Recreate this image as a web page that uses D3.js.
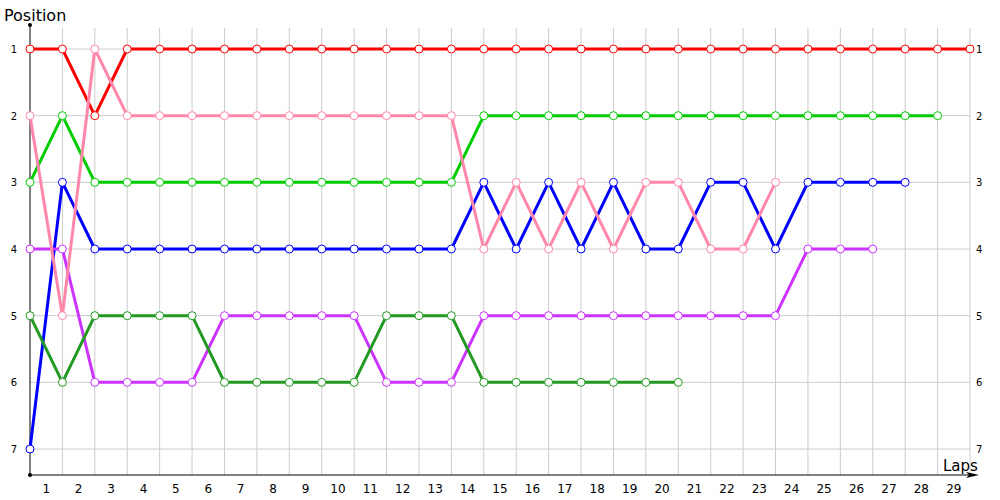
<!DOCTYPE html>
<html>
<head>
<meta charset="utf-8">
<script src="https://cdn.jsdelivr.net/npm/d3@7"></script>
<style>
  body { margin: 0; background: #fff; }
  text { font-family: "DejaVu Sans", Verdana, sans-serif; }
</style>
</head>
<body>
<svg id="chart" width="1000" height="500"></svg>
<script>
// lap positions, index = lap number (0 = start)
const laps = d3.range(0, 30)
const lapLabels = d3.range(1, 30)
const positions = [1, 2, 3, 4, 5, 6, 7]

const red = [1,1,2,1,1,1,1,1,1,1,1,1,1,1,1,1,1,1,1,1,1,1,1,1,1,1,1,1,1,1]
const pink = [2,5,1,2,2,2,2,2,2,2,2,2,2,2,4,3,4,3,4,3,3,4,4,3]
const blue = [7,3,4,4,4,4,4,4,4,4,4,4,4,4,3,4,3,4,3,4,4,3,3,4,3,3,3,3]
const purple = [4,4,6,6,6,6,5,5,5,5,5,6,6,6,5,5,5,5,5,5,5,5,5,5,4,4,4]
const darkGreen = [5,6,5,5,5,5,6,6,6,6,6,5,5,5,6,6,6,6,6,6,6]
const green = [3,2,3,3,3,3,3,3,3,3,3,3,3,3,2,2,2,2,2,2,2,2,2,2,2,2,2,2,2]

const series = [
  { values: red, color: '#ff0000' },
  { values: blue, color: '#0000ff' },
  { values: purple, color: '#cc33ff' },
  { values: darkGreen, color: '#229922' },
  { values: green, color: '#00cc00' },
  { values: pink, color: '#ff88aa' }
]

const svg = d3.select('#chart')

const x = d3.scaleLinear().domain([0, 29]).range([30, 970])
const y = d3.scaleLinear().domain([1, 7]).range([49, 449])

const gridTop = 28, axisY = 475

// grid
svg.append('g')
  .selectAll('line')
  .data(laps.slice(1))
  .join('line')
    .attr('x1', d => x(d)).attr('x2', d => x(d))
    .attr('y1', gridTop).attr('y2', axisY)
    .attr('stroke', '#cccccc')

svg.append('g')
  .selectAll('line')
  .data(positions)
  .join('line')
    .attr('x1', x(0)).attr('x2', x(29))
    .attr('y1', d => y(d)).attr('y2', d => y(d))
    .attr('stroke', '#cccccc')

// axes
svg.append('line')
  .attr('x1', x(0)).attr('x2', x(0))
  .attr('y1', 25).attr('y2', axisY)
  .attr('stroke', '#000')
svg.append('circle').attr('cx', x(0)).attr('cy', 25).attr('r', 2).attr('fill', '#000')
svg.append('circle').attr('cx', x(0)).attr('cy', axisY).attr('r', 2).attr('fill', '#000')

svg.append('line')
  .attr('x1', x(0)).attr('x2', 972)
  .attr('y1', axisY).attr('y2', axisY)
  .attr('stroke', '#000')
svg.append('path')
  .attr('d', `M966,${axisY - 3}L979,${axisY}L966,${axisY + 3}L969,${axisY}Z`)
  .attr('fill', '#000')

// tick labels
svg.append('g')
  .selectAll('text')
  .data(positions)
  .join('text')
    .attr('x', 14).attr('y', d => y(d) + 4)
    .attr('text-anchor', 'middle')
    .attr('font-size', 10)
    .text(d => d)

svg.append('g')
  .selectAll('text')
  .data(positions)
  .join('text')
    .attr('x', 976).attr('y', d => y(d) + 4)
    .attr('text-anchor', 'start')
    .attr('font-size', 10)
    .text(d => d)

svg.append('g')
  .selectAll('text')
  .data(lapLabels)
  .join('text')
    .attr('x', d => x(d - 0.5)).attr('y', 493)
    .attr('text-anchor', 'middle')
    .attr('font-size', 12)
    .text(d => d)

svg.append('text').attr('x', 4).attr('y', 21).attr('font-size', 16).text('Position')
svg.append('text').attr('x', 943).attr('y', 471).attr('font-size', 15).text('Laps')

// series
const line = d3.line().x((d, i) => x(i)).y(d => y(d))

series.forEach(s => {
  svg.append('path')
    .datum(s.values)
    .attr('d', line)
    .attr('fill', 'none')
    .attr('stroke', s.color)
    .attr('stroke-width', 3)
    .attr('stroke-linejoin', 'round')
})

series.forEach(s => {
  svg.append('g')
    .selectAll('circle')
    .data(s.values)
    .join('circle')
      .attr('cx', (d, i) => x(i))
      .attr('cy', d => y(d))
      .attr('r', 4)
      .attr('fill', '#fff')
      .attr('stroke', s.color)
      .attr('stroke-width', 1)
})
</script>
</body>
</html>
